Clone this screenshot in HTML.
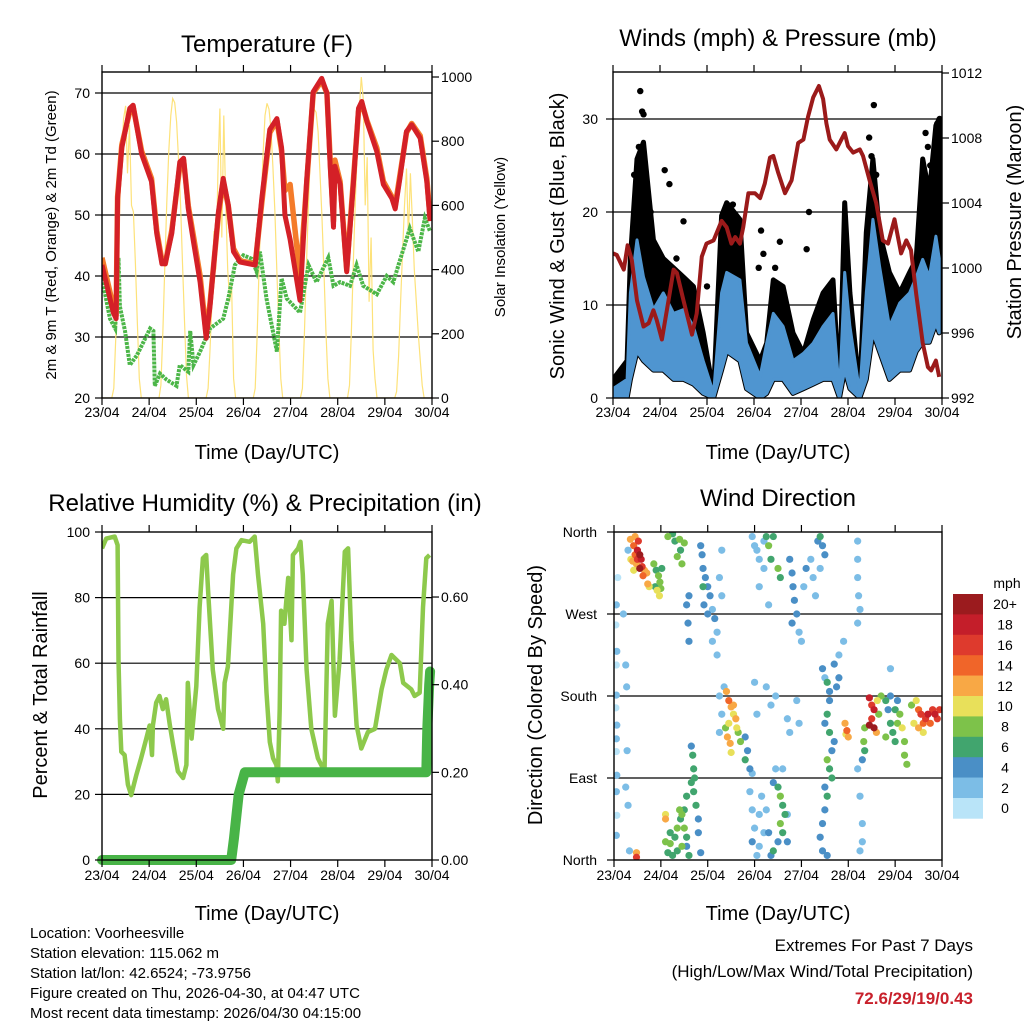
<!DOCTYPE html>
<html><head><meta charset="utf-8"><title>Station Meteogram</title>
<style>
html,body{margin:0;padding:0;background:#fff;}
svg{display:block;font-family:"Liberation Sans",Arial,sans-serif;}
</style></head>
<body>
<svg id="fig" width="1024" height="1024" viewBox="0 0 1024 1024" xmlns="http://www.w3.org/2000/svg">
<rect x="0" y="0" width="1024" height="1024" fill="#fff"/>
<g font-size="24" text-anchor="middle" fill="#000">
<text x="267" y="52">Temperature (F)</text>
<text x="778" y="46">Winds (mph) &amp; Pressure (mb)</text>
<text x="265" y="511">Relative Humidity (%) &amp; Precipitation (in)</text>
<text x="778" y="506">Wind Direction</text>
</g>
<g text-anchor="middle" fill="#000">
<text x="56" y="235" font-size="15" transform="rotate(-90 56 235)">2m &amp; 9m T (Red, Orange) &amp; 2m Td (Green)</text>
<text x="505" y="237" font-size="15" transform="rotate(-90 505 237)">Solar Insolation (Yellow)</text>
<text x="564" y="236" font-size="20" transform="rotate(-90 564 236)">Sonic Wind &amp; Gust (Blue, Black)</text>
<text x="1021" y="222" font-size="20" transform="rotate(-90 1021 222)">Station Pressure (Maroon)</text>
<text x="47" y="695" font-size="20" transform="rotate(-90 47 695)">Percent &amp; Total Rainfall</text>
<text x="542" y="695" font-size="20" transform="rotate(-90 542 695)">Direction (Colored By Speed)</text>
<text x="267" y="459" font-size="20">Time (Day/UTC)</text>
<text x="778" y="459" font-size="20">Time (Day/UTC)</text>
<text x="267" y="920" font-size="20">Time (Day/UTC)</text>
<text x="778" y="920" font-size="20">Time (Day/UTC)</text>
</g>
<g font-size="15" fill="#000">
<text x="30" y="938">Location: Voorheesville</text>
<text x="30" y="958">Station elevation: 115.062 m</text>
<text x="30" y="978">Station lat/lon: 42.6524; -73.9756</text>
<text x="30" y="998">Figure created on Thu, 2026-04-30, at 04:47 UTC</text>
<text x="30" y="1018">Most recent data timestamp: 2026/04/30 04:15:00</text>
</g>
<g font-size="17" text-anchor="end">
<text x="973" y="951" fill="#000">Extremes For Past 7 Days</text>
<text x="973" y="977" fill="#000">(High/Low/Max Wind/Total Precipitation)</text>
<text x="973" y="1004" fill="#c8202b" font-weight="bold">72.6/29/19/0.43</text>
</g>
</svg>
<script>
// ---------------- DATA ----------------
const dayLabels = ["23/04","24/04","25/04","26/04","27/04","28/04","29/04","30/04"];
const tempTicks = [20,30,40,50,60,70];
const solarTicks = [0,200,400,600,800,1000];
const windTicks = [0,10,20,30];
const pressTicks = [992,996,1000,1004,1008,1012];
const rhTicks = [0,20,40,60,80,100];
const precipTicks = ["0.00","0.20","0.40","0.60"];
const dirTickLabels = ["North","East","South","West","North"];
const speedLabels = ["0","2","4","6","8","10","12","14","16","18","20+"];

const tempDays = [0,0.24,0.30,0.33,0.42,0.59,0.66,0.84,1.05,1.16,1.27,1.34,1.48,1.65,1.73,1.83,1.94,2.08,2.21,2.29,2.47,2.57,2.68,2.79,2.93,3.25,3.39,3.56,3.71,3.81,3.88,3.99,4.2,4.34,4.48,4.66,4.77,4.84,4.91,4.94,5.05,5.19,5.33,5.44,5.51,5.62,5.83,5.97,6.15,6.22,6.32,6.46,6.57,6.75,6.89,6.96];
const temp2m = [41.8,34,33,52.7,61,67.5,68,60,55.5,47,42,42,47,58.7,59.3,51,45.6,39,29.8,35,50.5,56,51.6,44,42.3,41.8,52.7,64,65.8,61,50,46,36,55.5,70.2,72.4,70,58,48,58,55,40.7,55,67.5,68.6,65.3,60.4,55,52.7,51,56,63.7,64.8,62.6,55.5,49];
const temp9m = [43,35,33.5,53,61.5,67,67.8,60.5,56,47.5,42.5,42,47.5,58,59,51.5,46.5,40,30.5,35.5,50,55.5,51.5,44.5,42.5,42,52,63.5,65.5,60.5,54,55,40,55,70,72,70,59,49,59,55.5,41,55.5,67,68.3,65.5,61,55.5,53,51.5,56.5,63.5,65,63,56,49.5];
const dewDays = [0,0.17,0.28,0.35,0.38,0.49,0.59,0.74,1.02,1.09,1.12,1.23,1.37,1.58,1.65,1.83,1.87,1.94,2.08,2.29,2.57,2.68,2.82,3.0,3.18,3.28,3.35,3.49,3.71,3.81,3.92,4.2,4.38,4.55,4.8,4.91,5.05,5.26,5.4,5.54,5.83,6.04,6.18,6.29,6.53,6.71,6.85,6.96];
const dewPoint = [39.6,33,31.4,43,35,30.9,25.4,27,31.4,31,22,24,23,22,25.4,24.3,31,25.4,27.6,31.4,33,36.3,41.8,43.4,42.8,40.7,44,36.3,27.6,39.6,36.3,34,41.8,39,43,38.4,39,38.4,41.8,38.4,37,40,39,41.8,47.8,44,49.5,47.3];
const solar = [
0,0,0,0,0,0,30,190,400,600,760,870,910,700,850,600,580,420,230,60,0,0,0,0,
0,0,0,0,0,0,40,210,420,610,770,880,933,920,860,740,600,420,240,70,0,0,0,0,
0,0,0,0,0,0,30,150,300,520,400,700,902,500,880,600,400,300,350,60,0,0,0,0,
0,0,0,0,0,0,30,200,410,600,760,880,918,900,840,720,580,400,220,60,0,0,0,0,
0,0,0,0,0,0,30,190,400,590,750,870,900,890,830,700,560,390,210,60,0,0,0,0,
0,0,0,0,0,0,40,220,430,620,780,900,1000,930,600,750,300,500,150,60,0,0,0,0,
0,0,0,0,0,0,20,130,300,450,600,715,500,700,550,400,300,200,120,40,0,0,0,0,
0];

const pressDays = [0,0.08,0.23,0.31,0.40,0.51,0.65,0.76,0.86,0.93,1.04,1.18,1.29,1.36,1.5,1.68,1.78,1.89,1.99,2.14,2.31,2.42,2.52,2.6,2.7,2.77,2.88,3.02,3.13,3.23,3.34,3.41,3.51,3.66,3.8,3.94,4.05,4.15,4.26,4.38,4.47,4.54,4.61,4.75,4.93,5.0,5.11,5.25,5.32,5.46,5.6,5.74,5.85,5.99,6.13,6.24,6.34,6.45,6.59,6.7,6.77,6.87,6.94];
const pressure = [1000.9,1000.8,999.9,1001.4,1000.5,998,996.4,996.6,997.4,996.8,995.6,998,999.9,999.7,998,995.9,997.2,1000.7,1001.5,1001.7,1002.9,1002.5,1001.5,1001.9,1001.5,1002.5,1004.6,1004.6,1004.3,1005.2,1006.8,1006.9,1005.9,1004.6,1005.4,1007.7,1007.9,1009.3,1010.5,1011.2,1010.4,1008.9,1007.9,1007.3,1008.3,1007.5,1007.1,1007.3,1006.9,1005.4,1004,1001.7,1001.5,1003,1000.9,1001.7,1001.1,998.4,995.4,993.9,993.7,994.3,993.3];
const windDays = [0,0.3,0.37,0.51,0.65,0.86,1.07,1.29,1.5,1.71,1.92,2.14,2.31,2.42,2.7,2.84,3.13,3.27,3.41,3.62,3.83,4.05,4.26,4.47,4.68,4.82,4.93,5.04,5.25,5.39,5.53,5.67,5.88,6.1,6.31,6.45,6.59,6.73,6.87,6.94];
const windHigh = [1,2,11.3,17,13,9.5,11.3,9.1,9.5,7.7,4,0.5,11.3,13.5,12.7,5.9,2.3,5.9,9.1,7.7,4,4.8,5.9,7.7,9.1,0.5,13.5,7.7,0.5,11.3,19.2,14.2,7.7,10.2,11.3,13,14.9,13,17.4,15];
const windLow = [0,0,2,5,4,3,3,2,2,1.5,0.5,0,3,5,4,1,0,0.5,2,2,0.5,1,1.5,2,2,0,3,1,0,2,7,5,2,3,3,5,6,6,8,7];
const gustHigh = [2,4,15,25.7,27.5,17,15,14,13,12,7,0.5,19.6,21,19.2,7,4,5.9,12.7,12,7,4.8,8.4,11.3,12.7,0.5,21,11.3,0.5,17.8,25.7,17.8,13.5,11.3,13.5,14.9,25.7,22,29.3,30];
const gustDotDays = [0.58,0.62,0.65,0.5,0.45,0.8,1.0,1.1,1.2,1.5,2.45,2.55,3.15,3.2,3.1,3.55,4.17,5.55,5.45,5.5,6.65,6.7,6.9,6.95,6.85,4.12,2.0,1.35,0.55,0.7,2.5,3.45,5.6,6.75];
const gustDotMph = [33,30.8,30.5,22,24,20,13,24.5,23,19,20.5,20.8,18,15.5,14,16.8,20,31.5,28,26,28.5,27,29.5,30,26,16,12,15,27,22,18,14,24,25];

const rhDays = [0,0.09,0.27,0.33,0.35,0.38,0.41,0.48,0.55,0.62,0.73,0.83,0.94,1.01,1.06,1.08,1.15,1.22,1.29,1.36,1.44,1.51,1.61,1.72,1.79,1.82,1.9,2.0,2.07,2.14,2.21,2.25,2.35,2.46,2.57,2.6,2.67,2.78,2.85,2.96,3.13,3.24,3.31,3.42,3.49,3.56,3.63,3.7,3.73,3.77,3.8,3.87,3.95,4.02,4.05,4.16,4.21,4.26,4.34,4.44,4.58,4.72,4.79,4.87,4.94,5.04,5.15,5.22,5.29,5.4,5.5,5.64,5.79,5.93,6.03,6.14,6.32,6.39,6.56,6.63,6.74,6.81,6.88,6.95];
const rhValues = [95,98,98.6,96,61,43,33,32,23,19.8,26,31,37,41,32,41,48,50,46,49,41,35,27,25,29,54,37,53,77,92,93,82,58,46,40,54,59,87,95,97.5,97,98.6,87,72,51,36,31,29,24,46,76,72,86,67,93,95,97,87,58,40,31,27,72,79,44,61,94,95,67,41,34,39,40,52,58,62.5,60,54,52,50,51,77,92,93];
const precipDays = [0,2.74,2.8,2.9,3.03,6.88,6.9,6.94,6.96];
const precipValues = [0,0,0.05,0.15,0.2,0.2,0.3,0.4,0.43];

const dirDays = [0.05,0.04,0.06,0.05,0.05,0.04,0.06,0.05,0.05,0.06,0.05,0.06,0.05,0.25,0.27,0.28,0.25,0.3,0.08,0.2,0.3,0.33,
0.35,0.42,0.5,0.55,0.58,0.48,0.42,0.6,0.65,0.72,0.75,0.36,0.55,0.5,0.45,0.4,0.62,0.7,0.52,0.45,
0.85,0.9,0.95,0.98,1.0,0.88,1.02,0.92,0.97,
1.15,1.25,1.3,1.4,1.5,1.42,1.35,1.45,
1.85,1.88,1.9,1.95,2.0,2.05,1.92,2.1,2.15,2.0,2.2,2.1,2.2,1.9,1.55,1.58,1.6,1.6,2.3,2.25,2.3,
1.65,1.68,1.7,1.72,1.65,1.7,1.55,1.5,1.45,1.4,1.42,1.5,1.55,1.45,1.35,1.25,1.15,1.1,1.2,1.1,1.1,1.2,1.3,1.35,1.55,1.6,1.8,1.75,1.8,1.85,0.48,0.48,
2.4,2.45,2.5,2.55,2.45,2.38,2.42,2.48,2.5,2.6,2.65,2.7,2.55,2.62,2.3,2.25,2.25,2.35,
2.8,2.85,2.8,2.9,2.95,2.9,2.95,3.0,2.95,3.05,3.1,3.2,3.1,
2.95,3.0,3.05,3.1,3.2,3.25,3.3,3.4,3.35,3.5,3.55,3.2,3.1,3.3,
3.4,3.5,3.55,3.6,3.65,3.55,3.6,3.5,3.4,3.35,3.3,3.25,3.15,3.7,3.7,3.45,3.6,
3.25,3.45,3.0,3.05,3.35,3.7,3.75,3.9,3.95,
3.75,3.8,3.82,3.85,3.9,3.8,3.95,4.0,4.05,4.1,4.2,4.25,4.3,4.35,4.4,4.45,4.5,4.4,
4.45,4.5,4.55,4.6,4.6,4.55,4.5,4.6,4.7,4.65,4.55,4.6,4.65,4.5,4.55,4.5,4.45,4.4,4.45,4.55,4.7,4.8,4.9,4.8,4.75,
4.93,4.97,5.0,4.95,
5.2,5.2,5.2,5.22,5.25,5.2,5.25,5.3,5.3,5.25,5.2,5.9,
5.35,5.33,5.35,5.3,
5.45,5.5,5.55,5.5,5.45,5.55,5.62,5.65,5.6,5.7,
5.8,5.85,5.9,5.95,5.8,6.0,6.05,6.1,6.15,6.2,6.2,6.25,5.9,6.05,6.0,
6.45,6.5,6.55,6.6,6.65,6.7,6.75,6.8,6.85,6.9,6.95,6.5,6.6,6.35,6.4];
const dirDeg = [280,258,229,214,181,167,148,133,119,93,75,49,27,214,190,120,80,340,310,270,60,10,
352,345,340,335,330,325,318,322,318,303,300,330,320,330,335,328,312,315,350,355,
325,318,312,305,298,300,320,296,290,
355,358,350,352,348,340,333,325,
345,335,320,310,300,290,280,275,265,270,250,240,225,300,280,260,240,290,290,310,340,
125,115,100,90,85,75,70,55,50,55,45,35,25,15,10,5,8,20,18,50,45,30,25,35,15,5,45,60,30,8,8,3,
185,175,168,160,150,145,135,128,118,155,140,130,170,145,160,180,140,190,
135,120,110,100,95,75,55,35,20,5,15,30,50,
355,345,340,330,350,355,345,355,330,320,310,320,300,280,
85,80,70,60,50,40,30,20,10,5,30,55,70,20,50,100,100,
190,180,195,160,170,155,140,175,150,
330,315,300,285,270,260,250,240,300,320,330,310,290,350,355,345,335,320,
210,200,195,185,175,160,150,140,130,120,110,100,90,80,70,55,40,25,10,5,215,225,240,200,190,
150,142,135,138,
350,330,310,290,275,260,70,40,20,10,100,210,
145,130,120,110,
178,170,165,155,148,145,175,160,140,180,
175,165,150,140,135,130,150,160,145,130,115,105,180,175,165,
175,165,160,150,155,160,150,165,160,155,165,145,140,170,150];
const dirSpeed = [1,0.5,1,0.5,1,0.5,1,1,0.5,1,1.5,0.5,1,1,1.5,2,1,1,0.5,1,2.5,1,
11,14,17,19,18,12,10,16,12,11,10,9,20,16,13,11,13,12,15,12,
7,6,7,8,7,6,6,9,10,
7,6,6,7,8,6,8,7,
4,4,3,4,4,4,3,2,4,3,2,2,1,5,4,4,3,3,1,1,2,
4,5,6,6,6,5,6,6,7,8,5,7,6,8,6,5,6,7,8,10,12,6,5,7,4,5,3,5,4,4,11,16,
12,13,11,10,9,8,12,11,10,12,8,7,12,9,2,2,1,1,
4,4,5,3,2,2,1,2,4,2,1,1,1,
1,2,1,1,2,6,7,6,6,7,5,1,1,2,
4,6,7,6,5,8,6,4,6,4,3,2,1,3,2,2,1,
1,1,1,2,1,2,1,2,1,
4,3,4,4,4,3,2,1,2,3,2,1,1,4,5,4,3,1,
3,2,5,4,3,6,4,6,4,3,7,5,5,4,6,4,3,4,4,4,4,2,1,4,3,
12,13,11,10,
1,1,1,2,2,1,1,1,1,1,1,2,
7,8,6,4,
17,16,18,15,20,19,10,8,12,7,
6,4,6,6,7,6,7,8,10,8,8,7,4,4,6,
9,13,15,14,16,17,14,16,18,15,16,11,10,8,10];

const speedColors = ["#b9e4f8","#7cbde6","#4a8fc6","#41a56e","#7dc24a","#e8e05a","#f8a845","#f06529","#de3a2d","#c41e2a","#9b1b1e"];

// ---------------- DRAWING ----------------
const NS = "http://www.w3.org/2000/svg";
const svg = document.getElementById("fig");
function mk(tag, parent) { const e = document.createElementNS(NS, tag); (parent || svg).appendChild(e); return e; }
function attr(e, o) { for (const k in o) e.setAttribute(k, o[k]); return e; }

const P1 = {l:102, r:432, t:72, b:398};
const P2 = {l:613, r:942, t:72, b:398};
const P3 = {l:102, r:432, t:532, b:860};
const P4 = {l:614, r:942, t:532, b:860};
function xs(P) { return d => P.l + d / 7 * (P.r - P.l); }
function ys(P, lo, hi) { return v => P.b - (v - lo) / (hi - lo) * (P.b - P.t); }

const x1 = xs(P1), x2 = xs(P2), x3 = xs(P3), x4 = xs(P4);
const yTemp = v => 398 - (v - 20) * 6.1;
const ySolar = v => 398 - v * 0.321;
const yWind = v => 398 - v * 9.3;
const yPress = v => 398 - (v - 992) * 16.25;
const yRH = ys(P3, 0, 100);
const yPrec = v => 860 - v * 438.3;
const yDir = ys(P4, 0, 360);

function clipFor(P, id) {
  const cp = mk("clipPath"); cp.setAttribute("id", id);
  attr(mk("rect", cp), {x:P.l, y:P.t, width:P.r-P.l, height:P.b-P.t});
  return "url(#" + id + ")";
}
function pathD(xsArr, ysArr, fx, fy) {
  return xsArr.map((d, i) => (i ? "L" : "M") + fx(d).toFixed(1) + "," + fy(ysArr[i]).toFixed(1)).join("");
}

function drawFrame(P, name, grid) {
  const g = mk("g");
  
  
  grid.forEach(y => {
    const ln = attr(mk("line", g), {x1:P.l, x2:P.r, y1:y, y2:y, stroke:"#000", "stroke-width":1.2});
    
    
  });
  return g;
}
function drawBox(P, name, xf, labelY) {
  const g = mk("g");
  
  
  const r = attr(mk("rect", g), {x:P.l, y:P.t, width:P.r-P.l, height:P.b-P.t, fill:"none", stroke:"#000", "stroke-width":1.4});
  
  
  dayLabels.forEach((lab, i) => {
    const x = xf(i);
    attr(mk("line", g), {x1:x, x2:x, y1:P.b, y2:P.b+7, stroke:"#000", "stroke-width":1.2});
    attr(mk("line", g), {x1:x, x2:x, y1:P.t, y2:P.t-7, stroke:"#000", "stroke-width":1.2});
    const t = attr(mk("text", g), {x:x, y:labelY, "font-size":14, "text-anchor":"middle"});
    
    
    t.textContent = lab;
  });
  return g;
}
function leftTicks(g, P, vals, labels, fy, name, lx) {
  vals.forEach((v, i) => {
    const y = fy(v);
    attr(mk("line", g), {x1:P.l-7, x2:P.l, y1:y, y2:y, stroke:"#000", "stroke-width":1.2});
    const t = attr(mk("text", g), {x:lx, y:y+5, "font-size":14, "text-anchor":"end"});
    
    
    t.textContent = labels[i];
  });
}
function rightTicks(g, P, vals, labels, fy, name) {
  vals.forEach((v, i) => {
    const y = fy(v);
    attr(mk("line", g), {x1:P.r, x2:P.r+7, y1:y, y2:y, stroke:"#000", "stroke-width":1.2});
    const t = attr(mk("text", g), {x:P.r+9, y:y+5, "font-size":14, "text-anchor":"start"});
    
    
    t.textContent = labels[i];
  });
}

// ---- Panel 1: temperature
drawFrame(P1, "temperature", [30,40,50,60,70].map(yTemp));
const c1 = clipFor(P1, "c1");
const solarLine = attr(mk("path"), {d: pathD(solar.map((v,i)=>i/24), solar, x1, ySolar), fill:"none", stroke:"#fde27a", "stroke-width":1.2, "clip-path":c1});


const dewLine = attr(mk("path"), {d: pathD(dewDays, dewPoint, x1, yTemp), fill:"none", stroke:"#4cb648", "stroke-width":4, "stroke-dasharray":"3 1", "clip-path":c1});


const t9Line = attr(mk("path"), {d: pathD(tempDays, temp9m, x1, yTemp), fill:"none", stroke:"#f47b2a", "stroke-width":5.5, "stroke-linejoin":"round", "clip-path":c1});


const t2Line = attr(mk("path"), {d: pathD(tempDays, temp2m, x1, yTemp), fill:"none", stroke:"#d42027", "stroke-width":5, "stroke-linejoin":"round", "clip-path":c1});


const g1 = drawBox(P1, "temperature", x1, 417);
leftTicks(g1, P1, tempTicks, tempTicks.map(String), yTemp, "temperature-y", 90);
rightTicks(g1, P1, solarTicks, solarTicks.map(String), ySolar, "solar-y");

// ---- Panel 2: winds & pressure
drawFrame(P2, "winds", [10,20,30].map(yWind));
const c2 = clipFor(P2, "c2");
function band(days, hi, lo, fx, fy) {
  let d = days.map((t,i)=>(i?"L":"M")+fx(t).toFixed(1)+","+fy(hi[i]).toFixed(1)).join("");
  for (let i = days.length-1; i >= 0; i--) d += "L"+fx(days[i]).toFixed(1)+","+fy(lo[i]).toFixed(1);
  return d + "Z";
}
const gustBand = attr(mk("path"), {d: band(windDays, gustHigh, windLow, x2, yWind), fill:"#000", stroke:"#000", "stroke-width":5, "stroke-linejoin":"round", "clip-path":c2});


const gd = mk("g"); gd.setAttribute("clip-path", c2);


gustDotDays.forEach((d, i) => {
  const c = attr(mk("circle", gd), {cx:x2(d), cy:yWind(gustDotMph[i]), r:3.2, fill:"#000"});
  
  
});
const windBand = attr(mk("path"), {d: band(windDays, windHigh, windLow, x2, yWind), fill:"#4f95d0", stroke:"#4f95d0", "stroke-width":3, "stroke-linejoin":"round", "clip-path":c2});


const pressLine = attr(mk("path"), {d: pathD(pressDays, pressure, x2, yPress), fill:"none", stroke:"#9b1a1a", "stroke-width":4, "stroke-linejoin":"round", "clip-path":c2});


const g2 = drawBox(P2, "winds", x2, 417);
leftTicks(g2, P2, windTicks, windTicks.map(String), yWind, "wind-y", 598);
rightTicks(g2, P2, pressTicks, pressTicks.map(String), yPress, "pressure-y");

// ---- Panel 3: RH & precipitation
drawFrame(P3, "humidity", [20,40,60,80].map(yRH));
const c3 = clipFor(P3, "c3");
const rhLine = attr(mk("path"), {d: pathD(rhDays, rhValues, x3, yRH), fill:"none", stroke:"#8dc94c", "stroke-width":4.5, "stroke-linejoin":"round", "clip-path":c3});


const prLine = attr(mk("path"), {d: pathD(precipDays, precipValues, x3, yPrec), fill:"none", stroke:"#48b447", "stroke-width":10, "stroke-linejoin":"round", "stroke-linecap":"round"});


const g3 = drawBox(P3, "humidity", x3, 880);
leftTicks(g3, P3, rhTicks, rhTicks.map(String), yRH, "humidity-y", 90);
rightTicks(g3, P3, precipTicks.map(Number), precipTicks, yPrec, "precip-y");

// ---- Panel 4: wind direction
drawFrame(P4, "direction", [90,180,270].map(yDir));
const c4 = clipFor(P4, "c4");
const gdir = mk("g"); gdir.setAttribute("clip-path", c4);


const order = dirDays.map((d,i)=>i).sort((a,b)=>dirSpeed[a]-dirSpeed[b]);
order.forEach(i => {
  const idx = Math.min(10, Math.max(0, Math.round(dirSpeed[i] / 2)));
  const c = attr(mk("circle", gdir), {cx:x4(dirDays[i]), cy:yDir(dirDeg[i]), r:3.6, fill:speedColors[idx]});
  
  
});
const g4 = drawBox(P4, "direction", x4, 880);
leftTicks(g4, P4, [0,90,180,270,360], dirTickLabels, yDir, "direction-y", 597);

// colorbar
const cb = mk("g");


const cbTop = 594, cbH = 20.4;
const mphT = attr(mk("text", cb), {x:1007, y:588, "font-size":14, "text-anchor":"middle"});


mphT.textContent = "mph";
speedLabels.forEach((lab, k) => {
  const j = speedLabels.length - 1 - k;
  const y = cbTop + k * cbH;
  const r = attr(mk("rect", cb), {x:953, y:y, width:30, height:cbH+0.3, fill:speedColors[j]});
  
  
  const t = attr(mk("text", cb), {x:1005, y:y+cbH/2+5, "font-size":14, "text-anchor":"middle"});
  
  
  t.textContent = speedLabels[j];
});
</script>
</body></html>
